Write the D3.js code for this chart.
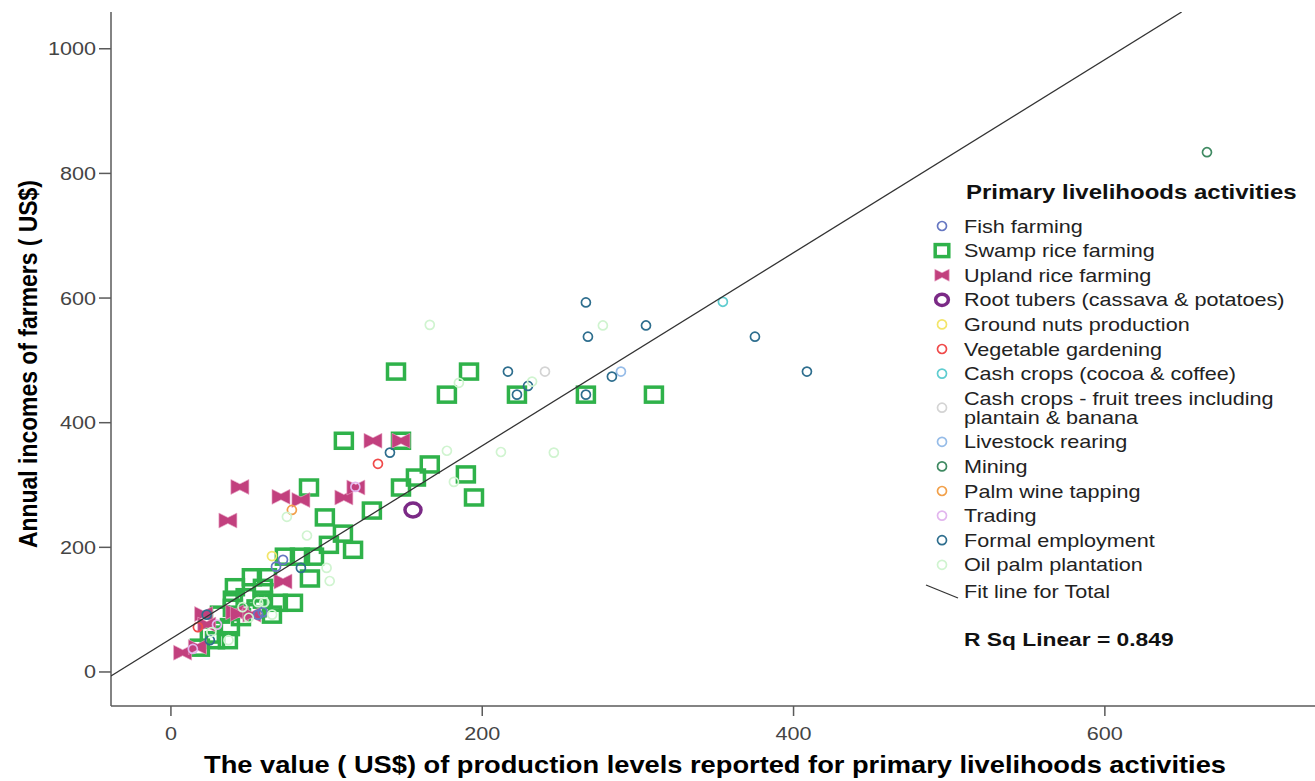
<!DOCTYPE html>
<html>
<head>
<meta charset="utf-8">
<script src="https://cdn.jsdelivr.net/npm/d3@7"></script>
<style>
  body { margin: 0; background: #fff; }
  svg text { font-family: Arial, "Liberation Sans", sans-serif; }
</style>
</head>
<body>
<div id="chart"></div>
<script>
// data: [x = value of production, y = annual income]
var fishFarming = [[67.5,169],[72,180],[56,92],[59,96]];
var swampRice = [
  [144.6,482],[191.5,482],[177.3,445],[222.3,445],[266.6,445],[310.3,445],
  [111.1,371],[147.8,371],[88.7,296],[147.8,296],[189.5,317],[194.7,280],
  [157.4,312],[166.3,333],[129.1,259],[98.9,248],[110.5,222],[117,196],
  [101.5,204],[91.9,185],[82.9,185],[73.2,185],[89.3,150],[52,152],[61.7,152],
  [41.1,136],[59.1,135],[68.7,111],[78.4,111],[64.9,92],[39.8,103],[31.5,92],
  [37.9,72],[36.6,51],[28.3,51],[18.6,39],[59.1,116],[39.8,116],[48,120],
  [55,102],[45,88],[25,60]
];
var uplandRice = [
  [44.3,297],[36.6,243],[70.7,281],[83.5,276],[111.1,280],[118.8,296],
  [129.8,371],[147.8,371],[72,145],[41,96],[44,93],[21,93],[7.5,31],[17,40],
  [23,76],[52,92]
];
var rootTubers = [[155.5,260]];
var groundNuts = [[64.9,186]];
var vegetableGardening = [[133,334],[17.3,72]];
var cashCropsCocoa = [[354.6,594]];
var cashCropsFruit = [[240.3,482]];
var livestock = [[289.1,482]];
var mining = [[665.6,834]];
var palmWine = [[77.7,260]];
var trading = [[14.1,37],[29.6,76],[118.5,297]];
var formalEmployment = [
  [266.6,593],[267.9,538],[305.2,556],[283.3,474],[216.5,482],[229.4,459],
  [222.3,445],[266.6,445],[375.2,538],[408.6,482],[140.7,352],[25,51],[23,92],
  [83.5,167]
];
var oilPalm = [
  [166.3,557],[277.5,556],[185,464],[232,466],[177.3,355],[212,353],[246,352],
  [181.8,305],[74.5,249],[87.4,219],[100,167],[102,146],[56,112],[65,92],
  [50,87],[26,64],[37,51],[46,104],[60,112]
];

var xTicks = [0, 200, 400, 600];
var yTicks = [0, 200, 400, 600, 800, 1000];

// fit line for total
var fitIntercept = 53.2, fitSlope = 1.549;
var rSquared = 0.849;

var series = [
  {name: 'Fish farming', data: fishFarming, color: '#6677c2', shape: 'circle'},
  {name: 'Swamp rice farming', data: swampRice, color: '#2fb24a', shape: 'square'},
  {name: 'Upland rice farming', data: uplandRice, color: '#c2407e', shape: 'bowtie'},
  {name: 'Root tubers (cassava & potatoes)', data: rootTubers, color: '#7b2a86', shape: 'bigcircle'},
  {name: 'Ground nuts production', data: groundNuts, color: '#f3e56a', shape: 'circle'},
  {name: 'Vegetable gardening', data: vegetableGardening, color: '#f04a4a', shape: 'circle'},
  {name: 'Cash crops (cocoa & coffee)', data: cashCropsCocoa, color: '#5fcdd0', shape: 'circle'},
  {name: ['Cash crops - fruit trees including', 'plantain & banana'], data: cashCropsFruit, color: '#d4d4d4', shape: 'circle'},
  {name: 'Livestock rearing', data: livestock, color: '#96bce8', shape: 'circle'},
  {name: 'Mining', data: mining, color: '#3f8a62', shape: 'circle'},
  {name: 'Palm wine tapping', data: palmWine, color: '#f2a04a', shape: 'circle'},
  {name: 'Trading', data: trading, color: '#e2b6ee', shape: 'circle'},
  {name: 'Formal employment', data: formalEmployment, color: '#2e6e8e', shape: 'circle'},
  {name: 'Oil palm plantation', data: oilPalm, color: '#d0f4d0', shape: 'circle'}
];

var width = 1315, height = 781;
var plot = {left: 111, right: 1315, top: 12, bottom: 706};
var stretch = 1.2; // text in the picture is wider than it is tall

var svg = d3.select('#chart').append('svg')
    .attr('width', width)
    .attr('height', height);

var x = d3.scaleLinear().domain([-38.5, 735]).range([plot.left, plot.right]);
var y = d3.scaleLinear().domain([-54.6, 1059]).range([plot.bottom, plot.top]);

svg.append('defs').append('clipPath').attr('id', 'plotclip')
    .append('rect')
    .attr('x', plot.left).attr('y', plot.top)
    .attr('width', plot.right - plot.left).attr('height', plot.bottom - plot.top);

// stretched text helper
function label(g, px, py, str, size, weight, anchor, fill) {
    return g.append('text')
        .attr('transform', 'translate(' + px + ',' + py + ') scale(' + stretch + ',1)')
        .attr('text-anchor', anchor || 'start')
        .style('font-size', size + 'px')
        .style('font-weight', weight || 'normal')
        .attr('fill', fill || '#222')
        .text(str);
}

// axes
var axisColor = '#5a5a5a';
svg.append('line')
    .attr('x1', plot.left).attr('x2', plot.left)
    .attr('y1', plot.top).attr('y2', plot.bottom)
    .attr('stroke', axisColor).attr('stroke-width', 1.5);
svg.append('line')
    .attr('x1', plot.left).attr('x2', plot.right)
    .attr('y1', plot.bottom).attr('y2', plot.bottom)
    .attr('stroke', axisColor).attr('stroke-width', 1.5);

var yAxis = svg.append('g');
yTicks.forEach(function(t) {
    yAxis.append('line')
        .attr('x1', plot.left - 12).attr('x2', plot.left)
        .attr('y1', y(t)).attr('y2', y(t))
        .attr('stroke', axisColor).attr('stroke-width', 1.5);
    label(yAxis, plot.left - 15, y(t) + 6.5, t, 18, 'normal', 'end', '#444');
});

var xAxis = svg.append('g');
xTicks.forEach(function(t) {
    xAxis.append('line')
        .attr('x1', x(t)).attr('x2', x(t))
        .attr('y1', plot.bottom).attr('y2', plot.bottom + 10)
        .attr('stroke', axisColor).attr('stroke-width', 1.5);
    label(xAxis, x(t), plot.bottom + 34, t, 18, 'normal', 'middle', '#444');
});

// axis titles (condensed bold in the picture)
svg.append('text')
    .attr('x', 715).attr('y', 773)
    .attr('text-anchor', 'middle')
    .style('font-size', '24px').style('font-weight', 'bold')
    .attr('textLength', 1022).attr('lengthAdjust', 'spacingAndGlyphs')
    .text('The value ( US$) of production levels reported  for primary livelihoods activities');

svg.append('text')
    .attr('transform', 'translate(37,364) rotate(-90)')
    .attr('text-anchor', 'middle')
    .style('font-size', '25px').style('font-weight', 'bold')
    .attr('textLength', 368).attr('lengthAdjust', 'spacingAndGlyphs')
    .text('Annual incomes of farmers ( US$)');

// marker drawing
function drawMarker(g, shape, color, scale) {
    var k = scale || 1;
    if (shape === 'circle') {
        g.append('circle').attr('r', 4.5 * k)
            .attr('fill', 'none').attr('stroke', color).attr('stroke-width', 1.7);
    } else if (shape === 'bigcircle') {
        g.append('ellipse').attr('rx', 8 * k).attr('ry', 7 * k)
            .attr('fill', 'none').attr('stroke', color).attr('stroke-width', 3.5);
    } else if (shape === 'square') {
        g.append('rect')
            .attr('x', -8.5 * k).attr('y', -7.5 * k)
            .attr('width', 17 * k).attr('height', 15 * k)
            .attr('fill', 'none').attr('stroke', color).attr('stroke-width', 3.5);
    } else if (shape === 'bowtie') {
        var w = 9 * k, h = 7.5 * k;
        g.append('path')
            .attr('d', 'M' + (-w) + ',' + (-h) + 'L0,' + (-h * 0.4) + 'L' + w + ',' + (-h) +
                'L' + w + ',' + h + 'L0,' + (h * 0.4) + 'L' + (-w) + ',' + h + 'Z')
            .attr('fill', color).attr('stroke', '#e9a8c8').attr('stroke-width', 0.6);
    }
}

var marks = svg.append('g').attr('clip-path', 'url(#plotclip)');
// squares first, then bowties, then circles on top
var order = ['square', 'bowtie', 'bigcircle', 'circle'];
order.forEach(function(shape) {
    series.filter(function(s) { return s.shape === shape; }).forEach(function(s) {
        marks.selectAll(null)
            .data(s.data)
            .enter().append('g')
            .attr('transform', function(d) { return 'translate(' + x(d[0]) + ',' + y(d[1]) + ')'; })
            .each(function() { drawMarker(d3.select(this), s.shape, s.color); });
    });
});

// fit line
var x0 = x.domain()[0];
var x1 = (y.domain()[1] - fitIntercept) / fitSlope;
marks.append('line')
    .attr('x1', x(x0)).attr('y1', y(fitIntercept + fitSlope * x0))
    .attr('x2', x(x1)).attr('y2', y(fitIntercept + fitSlope * x1))
    .attr('stroke', '#333').attr('stroke-width', 1.3);

// legend
var legend = svg.append('g');
legend.append('rect')
    .attr('x', 925).attr('y', 172).attr('width', 385).attr('height', 485)
    .attr('fill', '#fff');
label(legend, 966, 199, 'Primary livelihoods activities', 20, 'bold', 'start', '#111');

var rowY = 226;
series.forEach(function(s) {
    var lines = Array.isArray(s.name) ? s.name : [s.name];
    var cy = rowY + (lines.length - 1) * 9.5;
    var m = legend.append('g').attr('transform', 'translate(942,' + cy + ')');
    drawMarker(m, s.shape, s.color, s.shape === 'circle' ? 1 : 0.8);
    lines.forEach(function(t, i) {
        label(legend, 964, rowY + 6.5 + i * 19, t, 18, 'normal', 'start', '#222');
    });
    rowY += 24.6 + (lines.length - 1) * 19;
});
legend.append('line')
    .attr('x1', 926).attr('y1', 585).attr('x2', 958).attr('y2', 598)
    .attr('stroke', '#333').attr('stroke-width', 1.3);
label(legend, 964, 598, 'Fit line for Total', 18, 'normal', 'start', '#222');
label(legend, 964, 646, 'R Sq Linear = ' + rSquared, 19, 'bold', 'start', '#111');
</script>
</body>
</html>
